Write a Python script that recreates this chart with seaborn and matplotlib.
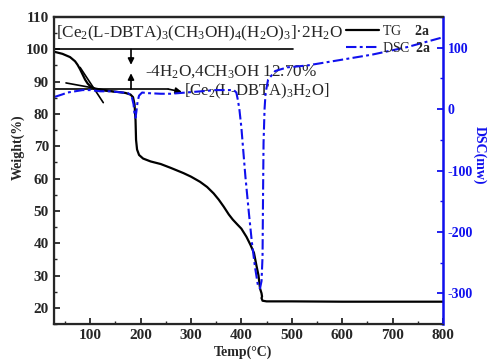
import numpy as np
import pandas as pd
import matplotlib
matplotlib.use("Agg")
import matplotlib.pyplot as plt
import seaborn as sns
from matplotlib.lines import Line2D

# TG curve (weight %)
tg_temp = [30, 45, 60, 70, 75, 80, 85, 90, 95, 100, 110, 130, 150, 170, 180, 185,
           188, 190, 191, 193, 197, 205, 220, 240, 260, 285, 300, 318, 332, 345,
           355, 365, 375, 383, 392, 400, 410, 418, 425, 430, 434, 437, 440, 441,
           440, 442, 450, 500, 600, 700, 800]
tg_weight = [99.2, 98.6, 97.6, 96.3, 95.2, 93.8, 92.2, 90.6, 89.4, 88.6, 87.7, 87.2,
             86.9, 86.5, 86.0, 85.2, 83.0, 78.0, 72.0, 69.0, 67.3, 66.2, 65.3, 64.5,
             63.3, 61.7, 60.6, 59.0, 57.4, 55.4, 53.5, 51.3, 48.9, 47.3, 45.8, 44.5,
             42.0, 39.5, 37.0, 33.0, 30.0, 26.0, 24.5, 23.5, 23.0, 22.2, 22.0, 22.0,
             21.9, 21.9, 21.9]

# DSC curve (mw)
dsc_temp = [30, 45, 55, 70, 85, 100, 120, 140, 165, 175, 182, 186, 188, 190, 192,
            194, 197, 203, 215, 240, 260, 290, 320, 350, 385, 390, 393, 396, 400,
            408, 415, 421, 427, 433, 437, 440, 442, 443, 444, 446, 448, 453, 467,
            491, 530, 596, 661, 729, 800]
dsc_value = [20, 24, 27, 29, 31, 31, 29, 29, 27, 26, 22, 8, -8, -14, -2, 12, 22, 27,
             26, 25, 25, 27, 29, 31, 31, 27, 15, 0, -30, -110, -170, -218, -257,
             -288, -292, -280, -240, -140, -55, 0, 26, 48, 62, 68, 71, 80, 89, 101, 117]

tg_df = pd.DataFrame({"Temp": tg_temp, "Weight": tg_weight})
dsc_df = pd.DataFrame({"Temp": dsc_temp, "DSC": dsc_value})

sns.set_style("ticks")
plt.rcParams["font.family"] = ["Liberation Serif", "DejaVu Serif"]
plt.rcParams["mathtext.fontset"] = "custom"
plt.rcParams["mathtext.rm"] = "Liberation Serif"
plt.rcParams["mathtext.it"] = "Liberation Serif:italic"
plt.rcParams["mathtext.bf"] = "Liberation Serif:bold"
plt.rcParams["axes.unicode_minus"] = False

blue = "#1010ee"
dashdot = (0, (5, 1.6, 1.4, 1.6))

fig = plt.figure(figsize=(4.9, 3.62), dpi=100)
ax = fig.add_axes([0.110, 0.105, 0.794, 0.848])
ax2 = ax.twinx()

sns.lineplot(data=tg_df, x="Temp", y="Weight", ax=ax, color="black", lw=1.6,
             sort=False, estimator=None)
sns.lineplot(data=dsc_df, x="Temp", y="DSC", ax=ax2, color=blue, lw=1.5,
             linestyle=dashdot, sort=False, estimator=None)

ax.set_xlim(28, 800)
ax.set_ylim(15, 110)
ax2.set_ylim(-350, 150)
ax.set_xticks(range(100, 801, 100))
ax.set_xticks(range(50, 801, 50), minor=True)
ax.set_yticks(range(20, 111, 10))
ax.set_yticks(range(15, 111, 5), minor=True)
ax2.set_yticks([-300, -200, -100, 0, 100])
ax2.set_yticks(range(-350, 151, 50), minor=True)

for a in (ax, ax2):
    a.tick_params(which="major", direction="in", length=4, width=1.3)
    a.tick_params(which="minor", direction="in", length=2.5, width=1.0)
ax.tick_params(labelsize=11)
ax2.tick_params(axis="y", which="both", colors=blue, labelsize=10)
for lab in ax.get_xticklabels() + ax.get_yticklabels() + ax2.get_yticklabels():
    lab.set_fontweight("bold")

for s in ("left", "bottom", "top"):
    ax.spines[s].set_linewidth(1.6)
ax2.spines["right"].set_color(blue)
ax2.spines["right"].set_linewidth(1.8)
ax2.spines["top"].set_linewidth(1.6)

ax.set_xlabel("Temp(°C)", fontsize=10, fontweight="bold")
ax.xaxis.set_label_coords(0.486, -0.07)
ax.set_ylabel("Weight(%)", fontsize=10, fontweight="bold", va="center")
ax.yaxis.set_label_coords(-0.0925, 0.577)
ax2.set_ylabel("DSC(mw)", fontsize=10, fontweight="bold", color=blue,
               rotation=270, va="center", ha="center")
ax2.yaxis.set_label_coords(1.095, 0.55)

# tangent lines and annotations
ax.plot([80, 126], [94.4, 83.5], color="black", lw=1.2)
ax.plot([52, 150], [89.6, 86.8], color="black", lw=1.2)
ax.plot([28, 503], [100, 100], color="black", lw=1.2)
ax.plot([28, 255], [87.7, 87.7], color="black", lw=1.2)
arrow = dict(arrowstyle="-|>", color="black", lw=1.2, mutation_scale=9,
             shrinkA=0, shrinkB=0)
ax.annotate("", xy=(282, 86.8), xytext=(255, 87.7), arrowprops=arrow)
ax.annotate("", xy=(181, 95.2), xytext=(181, 100), arrowprops=arrow)
ax.annotate("", xy=(181, 92.6), xytext=(181, 87.7), arrowprops=arrow)

ax.text(33, 105, r"[Ce$_2$(L-DBTA)$_3$(CH$_3$OH)$_4$(H$_2$O)$_3$]·2H$_2$O",
        fontsize=12.3, va="center", ha="left")
ax.text(208, 93.2, r"-4H$_2$O,4CH$_3$OH 12.70%", fontsize=12.3, va="center")
ax.text(287, 86.9, r"[Ce$_2$(L-DBTA)$_3$H$_2$O]", fontsize=12, va="center")

handles = [Line2D([], [], color="black", lw=1.6),
           Line2D([], [], color=blue, lw=1.5, linestyle=dashdot)]
labels = [r"TG    $\mathbf{2a}$", r"DSC  $\mathbf{2a}$"]
fig.legend(handles, labels, loc="upper left",
           bbox_to_anchor=(343 / 490, 1 - 21 / 362),
           frameon=False, fontsize=10, handlelength=2.4, handletextpad=0.2,
           labelspacing=0.25, borderaxespad=0, borderpad=0.2)

fig.savefig("out.png", dpi=100)
